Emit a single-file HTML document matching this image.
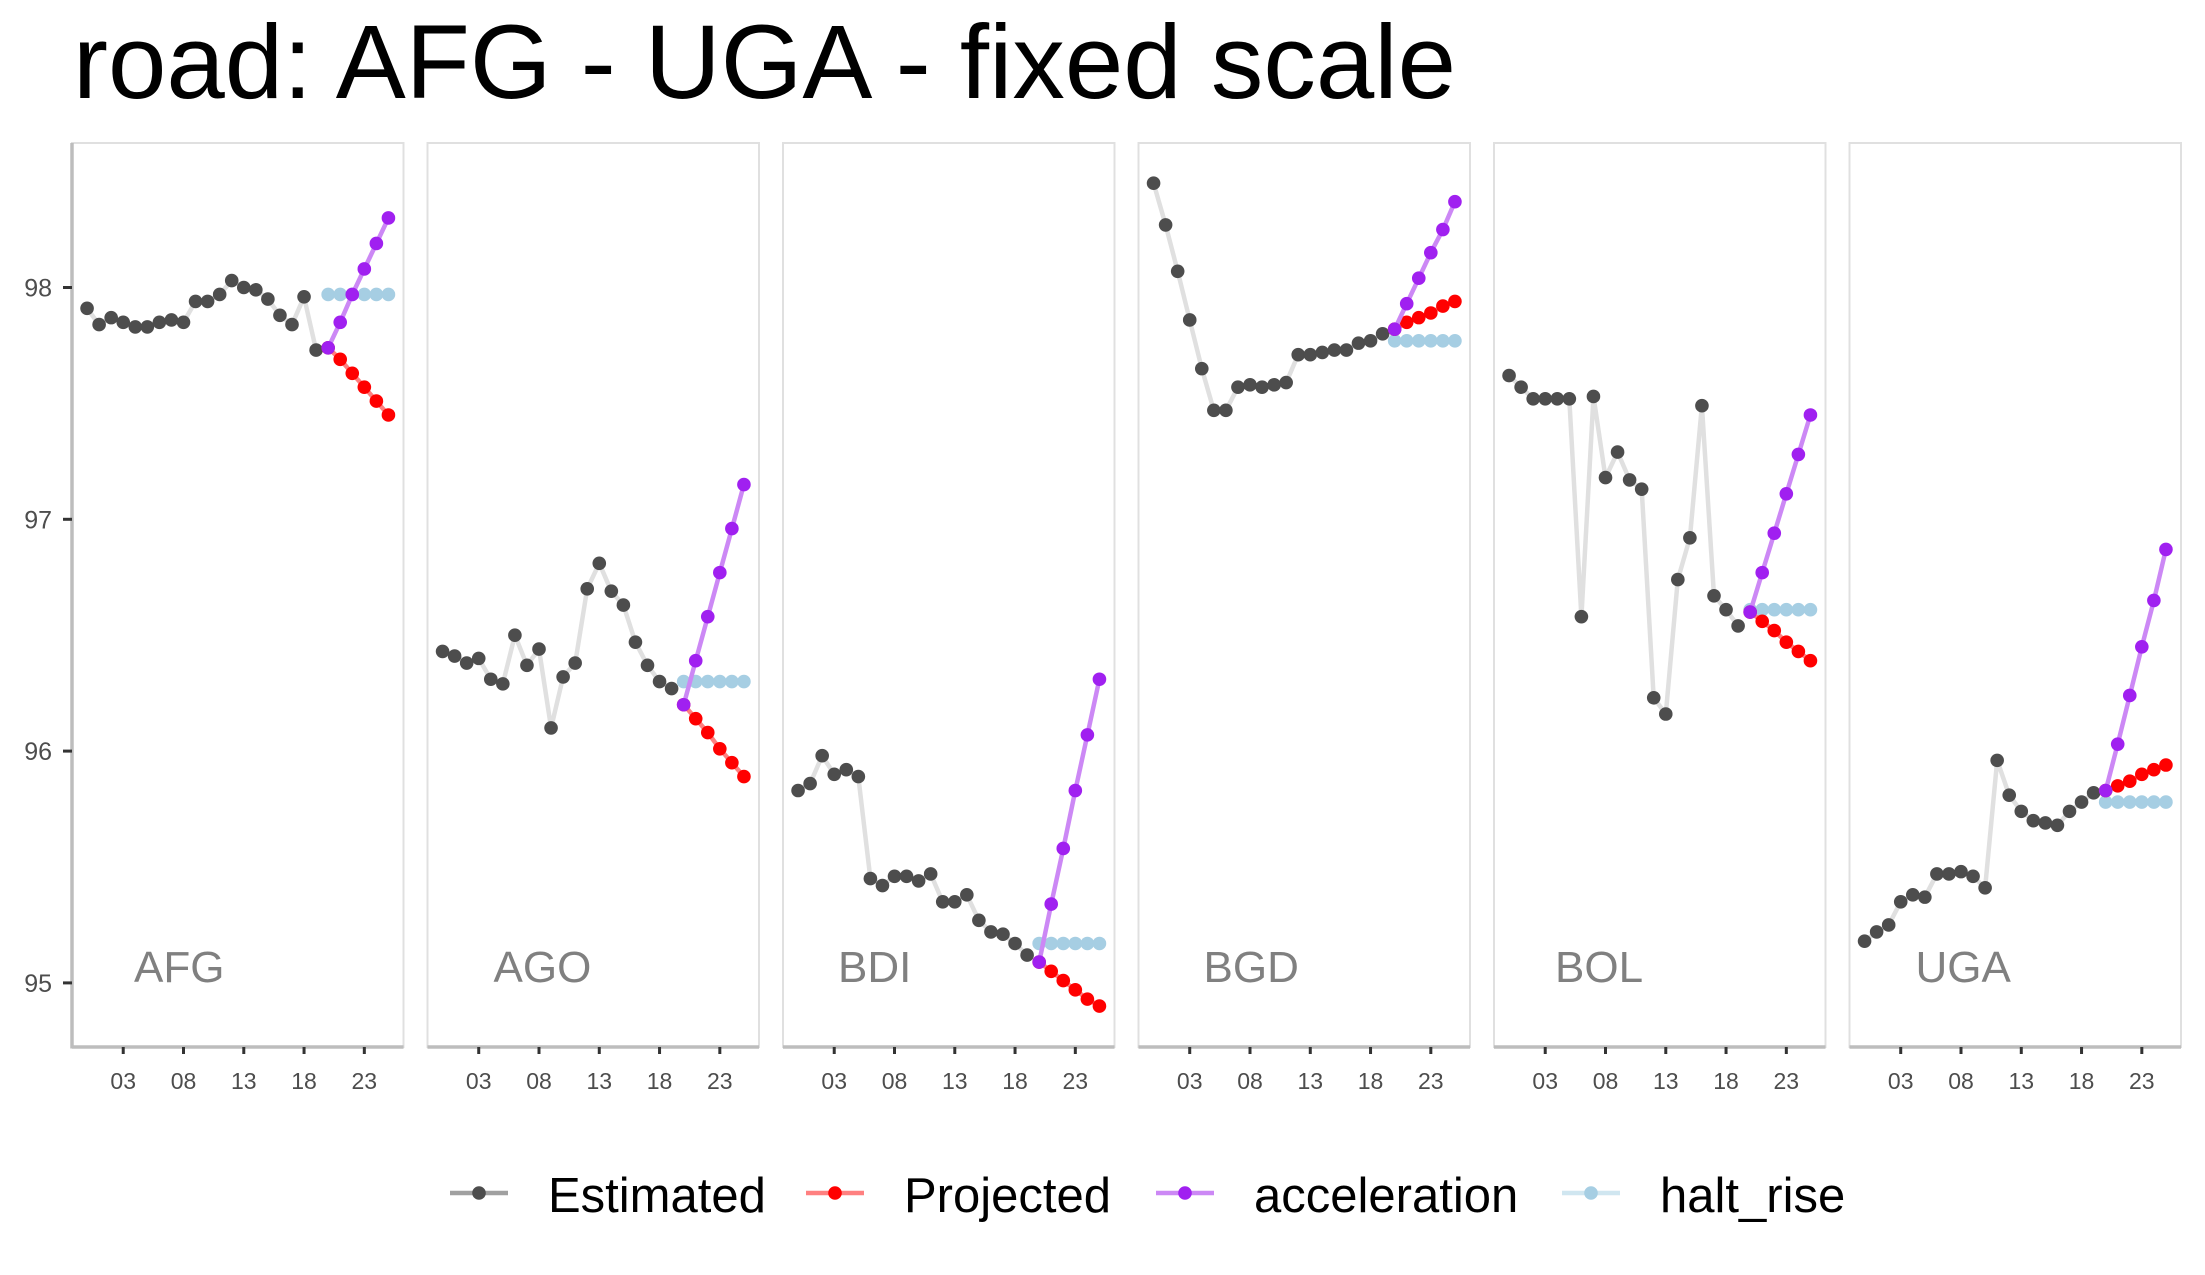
<!DOCTYPE html>
<html><head><meta charset="utf-8"><style>
html,body{margin:0;padding:0;background:#fff;}
svg{display:block;font-family:"Liberation Sans",Arial,sans-serif;}
</style></head><body>
<svg id="chart" width="2205" height="1275" viewBox="0 0 2205 1275" xmlns="http://www.w3.org/2000/svg">
<text x="73" y="98" font-size="105" fill="#000">road: AFG - UGA - fixed scale</text>
<g id="panels"></g>
<g id="legend"></g>
</svg>
<script>
const countries = ["AFG","AGO","BDI","BGD","BOL","UGA"];
const estYears = [0,1,2,3,4,5,6,7,8,9,10,11,12,13,14,15,16,17,18,19];
const projYears = [20,21,22,23,24,25];
const xTickYears = [3,8,13,18,23];
const xTickLabels = ["03","08","13","18","23"];
const yTicks = [95,96,97,98];
const estimated = {
 AFG:[97.91,97.84,97.87,97.85,97.83,97.83,97.85,97.86,97.85,97.94,97.94,97.97,98.03,98.0,97.99,97.95,97.88,97.84,97.96,97.73],
 AGO:[96.43,96.41,96.38,96.40,96.31,96.29,96.50,96.37,96.44,96.10,96.32,96.38,96.70,96.81,96.69,96.63,96.47,96.37,96.30,96.27],
 BDI:[95.83,95.86,95.98,95.90,95.92,95.89,95.45,95.42,95.46,95.46,95.44,95.47,95.35,95.35,95.38,95.27,95.22,95.21,95.17,95.12],
 BGD:[98.45,98.27,98.07,97.86,97.65,97.47,97.47,97.57,97.58,97.57,97.58,97.59,97.71,97.71,97.72,97.73,97.73,97.76,97.77,97.80],
 BOL:[97.62,97.57,97.52,97.52,97.52,97.52,96.58,97.53,97.18,97.29,97.17,97.13,96.23,96.16,96.74,96.92,97.49,96.67,96.61,96.54],
 UGA:[95.18,95.22,95.25,95.35,95.38,95.37,95.47,95.47,95.48,95.46,95.41,95.96,95.81,95.74,95.70,95.69,95.68,95.74,95.78,95.82]
};
const projected = {
 AFG:[97.74,97.69,97.63,97.57,97.51,97.45],
 AGO:[96.20,96.14,96.08,96.01,95.95,95.89],
 BDI:[95.09,95.05,95.01,94.97,94.93,94.90],
 BGD:[97.82,97.85,97.87,97.89,97.92,97.94],
 BOL:[96.60,96.56,96.52,96.47,96.43,96.39],
 UGA:[95.83,95.85,95.87,95.90,95.92,95.94]
};
const acceleration = {
 AFG:[97.74,97.85,97.97,98.08,98.19,98.30],
 AGO:[96.20,96.39,96.58,96.77,96.96,97.15],
 BDI:[95.09,95.34,95.58,95.83,96.07,96.31],
 BGD:[97.82,97.93,98.04,98.15,98.25,98.37],
 BOL:[96.60,96.77,96.94,97.11,97.28,97.45],
 UGA:[95.83,96.03,96.24,96.45,96.65,96.87]
};
const haltRise = {
 AFG:[97.97,97.97,97.97,97.97,97.97,97.97],
 AGO:[96.30,96.30,96.30,96.30,96.30,96.30],
 BDI:[95.17,95.17,95.17,95.17,95.17,95.17],
 BGD:[97.77,97.77,97.77,97.77,97.77,97.77],
 BOL:[96.61,96.61,96.61,96.61,96.61,96.61],
 UGA:[95.78,95.78,95.78,95.78,95.78,95.78]
};
const labelOffsets = [62,66,55,65,61,66];

const NS="http://www.w3.org/2000/svg";
const plotTop=143, plotBottom=1047, pw=331.5, pitch=355.5, left0=72;
function yS(v){ return 287.5 + (98 - v) * 231.8; }
function xS(i, yr){ const l = left0 + i*pitch; return l + (yr + 1.25) / 27.5 * pw; }
function mk(tag, attrs, parent){ const e=document.createElementNS(NS,tag); for(const k in attrs) e.setAttribute(k,attrs[k]); parent.appendChild(e); return e; }

const panels=document.getElementById('panels');
countries.forEach((c,i)=>{
  const l = left0 + i*pitch;
  const g = mk('g',{},panels);
  
  
  const box = mk('rect',{x:l,y:plotTop,width:pw,height:plotBottom-plotTop,fill:'none',stroke:'#e0e0e0','stroke-width':2},g);
  
  
  const xa = mk('line',{x1:l,x2:l+pw,y1:plotBottom,y2:plotBottom,stroke:'#bdbdbd','stroke-width':3.5},g);
  
  
  xTickYears.forEach((yr,k)=>{
    const x=xS(i,yr);
    const t = mk('line',{x1:x,x2:x,y1:plotBottom,y2:plotBottom+7,stroke:'#333','stroke-width':3},g);
    
    
    const tl = mk('text',{x:x,y:1089,'font-size':23,fill:'#4d4d4d','text-anchor':'middle'},g);
    tl.textContent = xTickLabels[k];
    
    
  });
  if(i===0){
    const ya = mk('line',{x1:l,x2:l,y1:plotTop,y2:plotBottom+1.5,stroke:'#bdbdbd','stroke-width':3.5},g);
    
    
    yTicks.forEach(v=>{
      const y=yS(v);
      const t = mk('line',{x1:l-9,x2:l,y1:y,y2:y,stroke:'#333','stroke-width':3},g);
      
      
      const tl = mk('text',{x:l-20,y:y+9,'font-size':25,fill:'#4d4d4d','text-anchor':'end'},g);
      tl.textContent = String(v);
      
      
    });
  }
  function series(years, vals, lineColor, dotColor, name){
    const pts = years.map((yr,k)=>xS(i,yr).toFixed(1)+','+yS(vals[k]).toFixed(1)).join(' ');
    const pl = mk('polyline',{points:pts,fill:'none',stroke:lineColor,'stroke-width':4.5,'stroke-linejoin':'round'},g);
    
    
    years.forEach((yr,k)=>{
      const d = mk('circle',{cx:xS(i,yr),cy:yS(vals[k]),r:6.8,fill:dotColor},g);
      
      
    });
  }
  series(estYears, estimated[c], '#e0e0e0', '#4d4d4d', 'estimated');
  series(projYears, haltRise[c], '#d0e6f0', '#a6cee3', 'halt-rise');
  series(projYears, projected[c], '#ff8080', '#ff0000', 'projected');
  series(projYears, acceleration[c], '#cc88f5', '#a020f0', 'acceleration');
  const lab = mk('text',{x:l+labelOffsets[i],y:982,'font-size':44,fill:'#808080'},g);
  lab.textContent = c;
  
  
});

const legendNames = ["Estimated","Projected","acceleration","halt_rise"];
const legendLine = ['#a0a0a0','#ff8080','#cc88f5','#d0e6f0'];
const legendDot = ['#4d4d4d','#ff0000','#a020f0','#a6cee3'];
const legendKeyX = [450,806,1156,1562];
const legend=document.getElementById('legend');
legendNames.forEach((n,k)=>{
  const g = mk('g',{},legend);
  
  
  const x=legendKeyX[k];
  mk('line',{x1:x,x2:x+58,y1:1193,y2:1193,stroke:legendLine[k],'stroke-width':4.5},g);
  mk('circle',{cx:x+29,cy:1193,r:6.8,fill:legendDot[k]},g);
  const t = mk('text',{x:x+98,y:1212,'font-size':49,fill:'#000'},g);
  t.textContent = n;
});
</script>
</body></html>
